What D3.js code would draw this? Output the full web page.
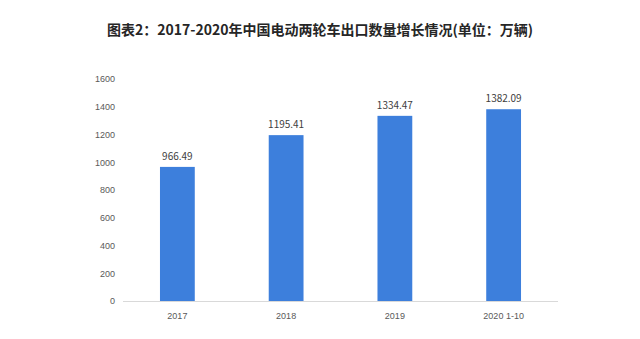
<!DOCTYPE html>
<meta charset="utf-8">
<title>电动两轮车出口数量</title>
<style>
    body { margin: 0; background: #fff; }
    svg { display: block; font-family: "Noto Sans CJK SC", "Noto Sans", sans-serif; }
    .axis text { font-size: 9px; fill: #595959; }
    .axis path, .axis line { display: none; }
    .value { font-size: 10px; fill: #404040; text-anchor: middle; }
    .title { font-size: 14px; font-weight: bold; fill: #262626; text-anchor: middle; }
</style>

<svg width="640" height="339"></svg>
<script src="https://cdn.jsdelivr.net/npm/d3@7/dist/d3.min.js"></script>
<script>

    var years = ["2017", "2018", "2019", "2020 1-10"];
    var exportVolume = [966.49, 1195.41, 1334.47, 1382.09];
    var yTicks = [0, 200, 400, 600, 800, 1000, 1200, 1400, 1600];

    var svg = d3.select("svg"),
        plotLeft = 123, plotRight = 558, plotTop = 79, plotBottom = 301;

    svg.append("text")
        .attr("class", "title")
        .attr("x", 320)
        .attr("y", 35)
        .text("图表2：2017-2020年中国电动两轮车出口数量增长情况(单位：万辆)");

    var x = d3.scaleBand()
        .domain(years)
        .range([plotLeft, plotRight])
        .paddingInner(0.68)
        .paddingOuter(0.34);

    var y = d3.scaleLinear()
        .domain([0, 1600])
        .range([plotBottom, plotTop]);

    svg.append("g")
        .attr("class", "axis")
        .attr("transform", "translate(" + (plotLeft - 2) + ",0)")
        .call(d3.axisLeft(y).tickValues(yTicks).tickFormat(d3.format("d")).tickSize(0).tickPadding(6));

    svg.append("line")
        .attr("x1", plotLeft).attr("x2", plotRight)
        .attr("y1", plotBottom + 0.5).attr("y2", plotBottom + 0.5)
        .attr("stroke", "#d9d9d9");

    svg.append("g")
        .attr("class", "axis")
        .attr("transform", "translate(0," + plotBottom + ")")
        .call(d3.axisBottom(x).tickSize(0).tickPadding(12));

    var bar = svg.selectAll(".bar")
        .data(years)
        .enter().append("g")
            .attr("class", "bar");

    bar.append("rect")
        .attr("x", function(d) { return x(d); })
        .attr("width", x.bandwidth())
        .attr("y", function(d, i) { return y(exportVolume[i]); })
        .attr("height", function(d, i) { return plotBottom - y(exportVolume[i]); })
        .attr("fill", "#3d7fdc");

    bar.append("text")
        .attr("class", "value")
        .attr("x", function(d) { return x(d) + x.bandwidth() / 2; })
        .attr("y", function(d, i) { return y(exportVolume[i]) - 7; })
        .text(function(d, i) { return exportVolume[i].toFixed(2); });

</script>
